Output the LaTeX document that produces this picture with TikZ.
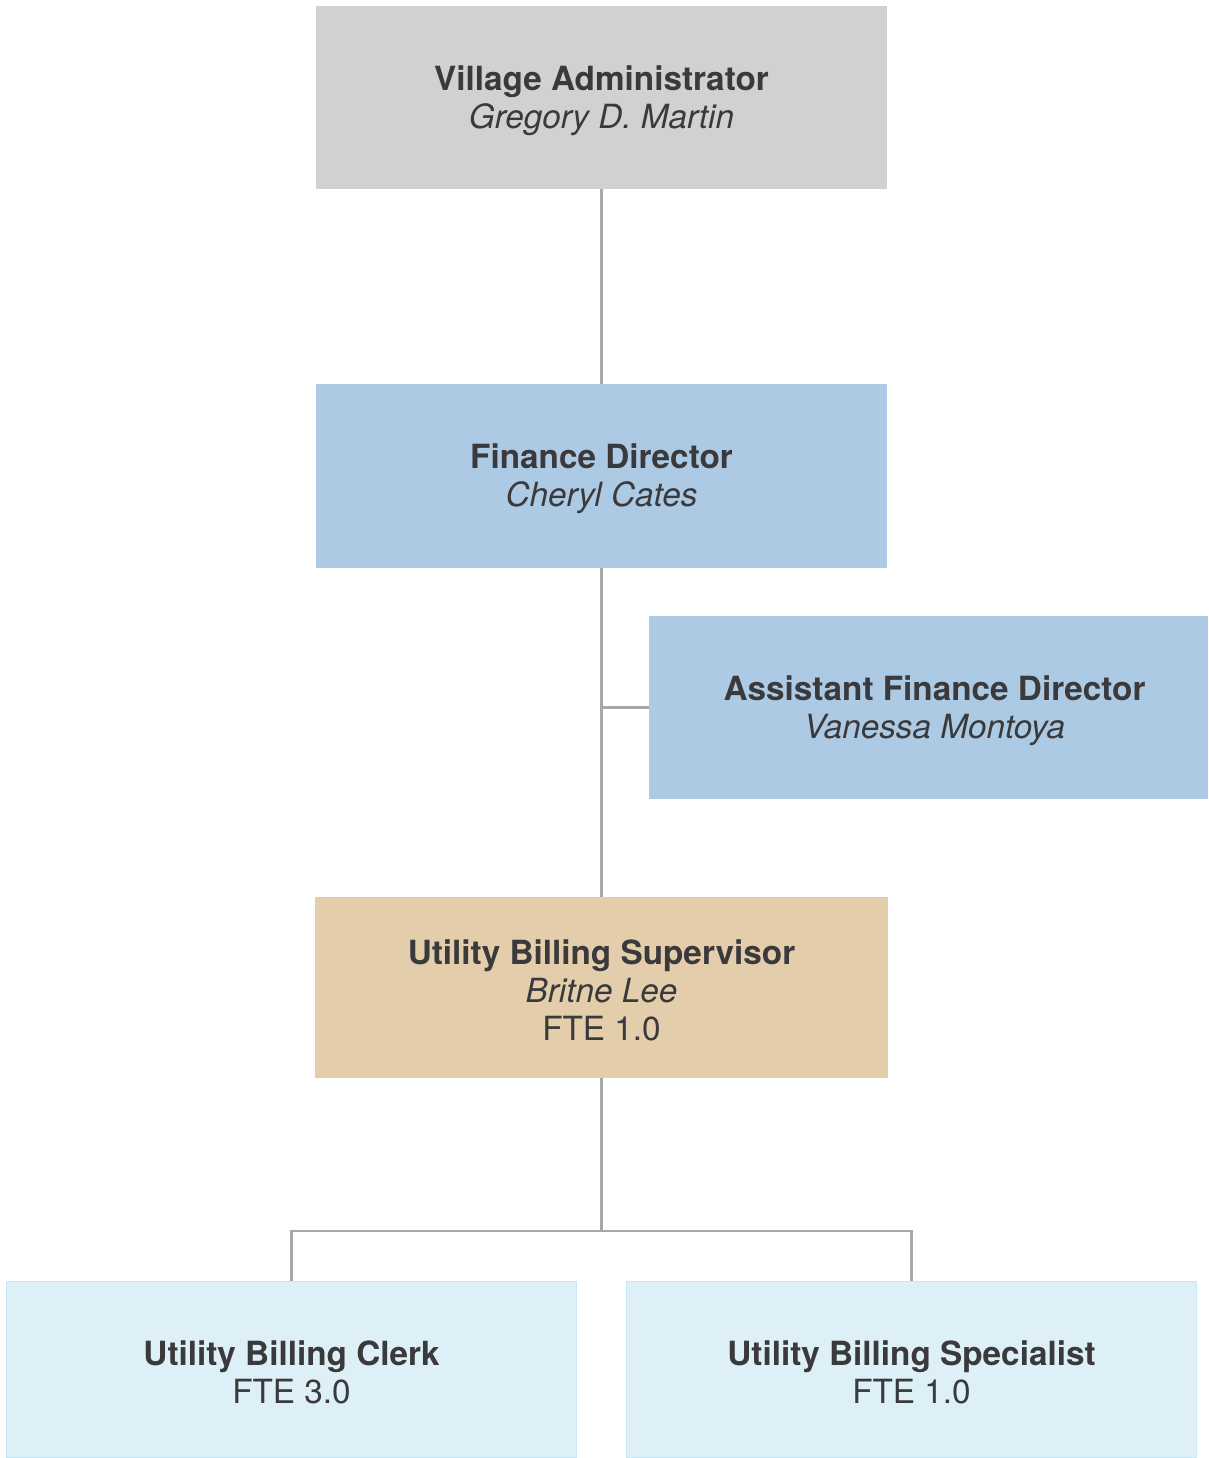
\documentclass[tikz,border=0pt]{standalone}
\usepackage{fontspec}
\setmainfont{TeX Gyre Heros}
\definecolor{txt}{HTML}{3A3A3C}
\definecolor{linegray}{HTML}{A7A8AB}
\definecolor{adminfill}{HTML}{D0D1D3}
\definecolor{finfill}{HTML}{ADCAE4}
\definecolor{supfill}{HTML}{E3CDAB}
\definecolor{stafffill}{HTML}{DDF0F8}
\definecolor{staffedge}{HTML}{C9E7F3}
\tikzset{
  orgbox/.style={rectangle, inner sep=0pt},
  orgtext/.style={inner sep=0pt, align=center, text=txt, yshift=-3pt,
    font=\fontsize{33.3}{38}\selectfont},
  link/.style={draw=linegray, line width=2.4pt}
}
\begin{document}
\begin{tikzpicture}[x=1pt, y=-1pt]
\useasboundingbox (0,0) rectangle (1208,1458);

\node[orgbox, fill=adminfill, minimum width=571pt, minimum height=183pt,
  label={[orgtext]center:\textbf{Village Administrator}\\\textit{Gregory D. Martin}}]
  (va) at (601.5,97.5) {};
\node[orgbox, fill=finfill, minimum width=571pt, minimum height=184pt,
  label={[orgtext]center:\textbf{Finance Director}\\\textit{Cheryl Cates}}]
  (fd) at (601.5,476) {};
\node[orgbox, fill=finfill, minimum width=559pt, minimum height=183pt,
  label={[orgtext, xshift=6pt]center:\textbf{Assistant Finance Director}\\\textit{Vanessa Montoya}}]
  (afd) at (928.5,707.5) {};
\node[orgbox, fill=supfill, minimum width=573pt, minimum height=181pt,
  label={[orgtext]center:\textbf{Utility Billing Supervisor}\\\textit{Britne Lee}\\FTE 1.0}]
  (ubs) at (601.5,987.5) {};
\node[orgbox, fill=stafffill, draw=staffedge, line width=1.5pt,
  minimum width=570pt, minimum height=176pt,
  label={[orgtext]center:\textbf{Utility Billing Clerk}\\FTE 3.0}]
  (clerk) at (291.5,1369.5) {};
\node[orgbox, fill=stafffill, draw=staffedge, line width=1.5pt,
  minimum width=570pt, minimum height=176pt,
  label={[orgtext]center:\textbf{Utility Billing Specialist}\\FTE 1.0}]
  (spec) at (911.5,1369.5) {};

\coordinate (bus) at (601.5,1231);

\draw[link] (va.south) -- (fd.north);
\draw[link] (fd.south) -- (ubs.north);
\draw[link] (fd.south |- afd.west) -- (afd.west);
\draw[link] (ubs.south) -- (bus);
\draw[link] (clerk.north) |- (bus) -| (spec.north);
\end{tikzpicture}
\end{document}
